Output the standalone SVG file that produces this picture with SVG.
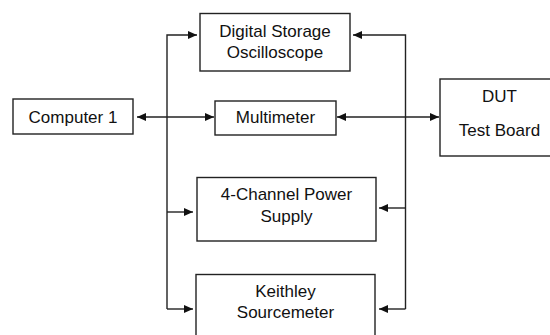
<svg xmlns="http://www.w3.org/2000/svg" width="550" height="335" viewBox="0 0 550 335">
<style>
.box{fill:#fff;stroke:#222;stroke-width:1.4}
.t{font-family:"Liberation Sans",Arial,sans-serif;font-size:17px;fill:#111;text-anchor:middle}
.c{fill:none;stroke:#222;stroke-width:1.4}
</style>
<defs>
<marker id="ah" viewBox="0 0 9 8" markerWidth="9" markerHeight="8" refX="9" refY="4" orient="auto-start-reverse" markerUnits="userSpaceOnUse">
<path d="M0,0 L9,4 L0,8 z" fill="#111"/>
</marker>
</defs>
<rect width="550" height="335" fill="#fff"/>
<g id="connectors">
<path class="c" d="M167,309 V35 H197" marker-end="url(#ah)"/>
<path class="c" d="M167,212 H193" marker-end="url(#ah)"/>
<path class="c" d="M167,309 H193" marker-end="url(#ah)"/>
<path class="c" d="M137,117 H214" marker-start="url(#ah)" marker-end="url(#ah)"/>
<path class="c" d="M405.5,309 V35 H353" marker-end="url(#ah)"/>
<path class="c" d="M405.5,208 H379" marker-end="url(#ah)"/>
<path class="c" d="M405.5,309 H379" marker-end="url(#ah)"/>
<path class="c" d="M337,117 H439" marker-start="url(#ah)" marker-end="url(#ah)"/>
</g>
<g id="computer1">
<rect class="box" x="13" y="99" width="120" height="35"/>
<text class="t" x="73" y="122.5">Computer 1</text>
</g>
<g id="dso">
<rect class="box" x="200" y="13.5" width="150" height="57.5"/>
<text class="t" x="275" y="37">Digital Storage</text>
<text class="t" x="275" y="58">Oscilloscope</text>
</g>
<g id="multimeter">
<rect class="box" x="215" y="101" width="121" height="34"/>
<text class="t" x="275.5" y="123">Multimeter</text>
</g>
<g id="dut">
<rect class="box" x="440" y="79" width="120" height="77"/>
<text class="t" x="499.5" y="101.5">DUT</text>
<text class="t" x="499.5" y="135.5">Test Board</text>
</g>
<g id="powersupply">
<rect class="box" x="197" y="177.5" width="179" height="63.5"/>
<text class="t" x="286.5" y="200">4-Channel Power</text>
<text class="t" x="286.5" y="221.5">Supply</text>
</g>
<g id="keithley">
<rect class="box" x="196" y="274.5" width="179" height="75"/>
<text class="t" x="285.5" y="296.5">Keithley</text>
<text class="t" x="285.5" y="318">Sourcemeter</text>
</g>
</svg>
